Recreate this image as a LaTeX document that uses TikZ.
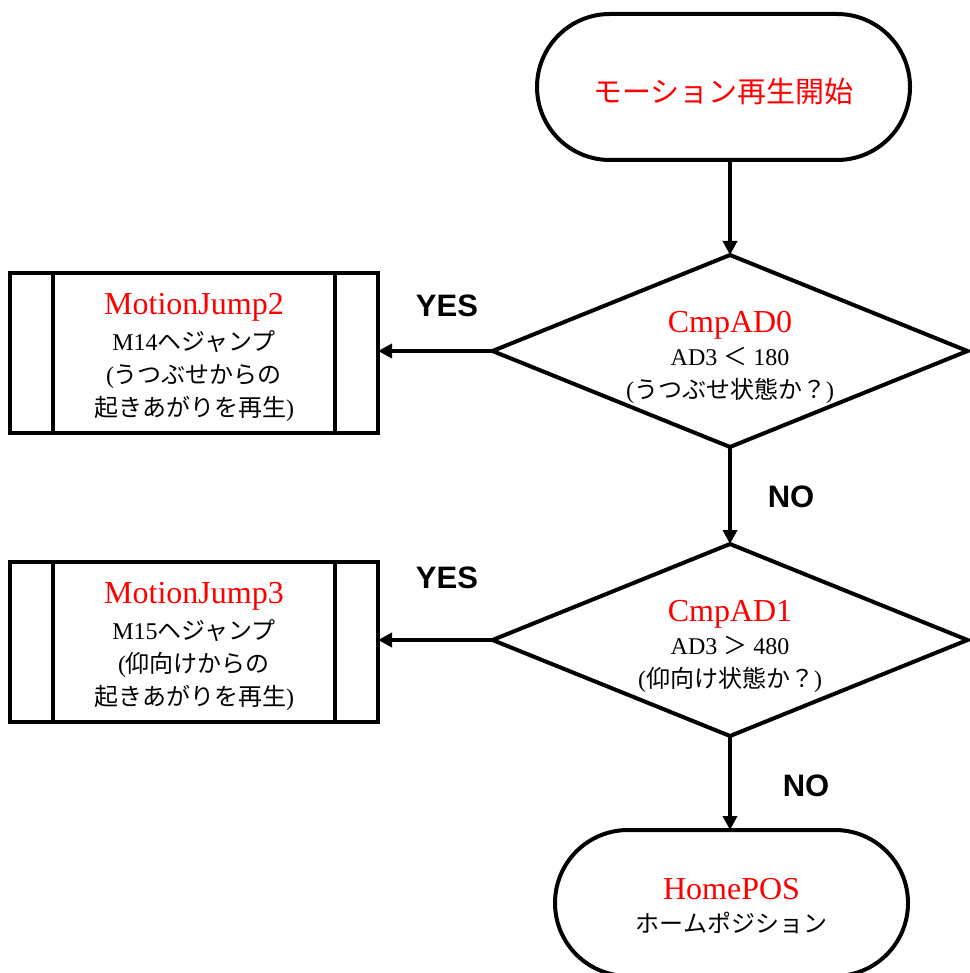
\documentclass[tikz,border=0pt]{standalone}
\usepackage{fontspec}
\setmainfont{Liberation Serif}
\newfontfamily\cjk{Noto Sans CJK JP}
\newfontfamily\lsans{Liberation Sans}
\usetikzlibrary{shapes.geometric,arrows.meta}
\newcommand\jtxt[1]{{\cjk #1}}
\begin{document}
\begin{tikzpicture}[x=1pt,y=-1pt,
  every node/.style={inner sep=0pt, outer sep=0pt},
  term/.style={draw, line width=4pt, rounded corners=73pt, minimum width=#1, minimum height=146pt},
  dec/.style={draw, diamond, line width=4pt, minimum width=475pt, minimum height=192pt, shape aspect=2.47},
  proc/.style={draw, line width=4pt, minimum width=368pt, minimum height=160pt},
  arr/.style={line width=4pt, -{Triangle[length=14pt,width=14pt]}},
  lbl/.style={font=\lsans\bfseries\fontsize{31}{31}\selectfont},
  body/.style={align=center, font=\fontsize{24}{33}\selectfont}
  ]
\useasboundingbox (0,0) rectangle (969,973);
\fill[white] (0,0) rectangle (969,973);

% start
\node[term=373pt] (start) at (723.5,87) {};
\node[font=\cjk\fontsize{29}{29}\selectfont, text=red] (startt) at (723.5,92) {モーション再生開始};

% decisions
\node[dec] (d1) at (730,351) {};
\node[body] (d1t) at (730,357) {{\fontsize{32}{33}\selectfont\color{red}CmpAD0}\\ AD3 \jtxt{＜} 180\\ (\jtxt{うつぶせ状態か？})};
\node[dec] (d2) at (730,640) {};
\node[body] (d2t) at (730,646) {{\fontsize{32}{33}\selectfont\color{red}CmpAD1}\\ AD3 \jtxt{＞} 480\\ (\jtxt{仰向け状態か？})};

% process boxes
\node[proc] (b1) at (194,353) {};
\draw[line width=4pt] ([xshift=43pt]b1.north west) -- ([xshift=43pt]b1.south west)
                      ([xshift=-43pt]b1.north east) -- ([xshift=-43pt]b1.south east);
\node[body] (b1t) at (194,357) {{\fontsize{32}{33}\selectfont\color{red}MotionJump2}\\[3pt] M14\jtxt{ヘジャンプ}\\ (\jtxt{うつぶせからの}\\ \jtxt{起きあがりを再生})};

\node[proc] (b2) at (194,642) {};
\draw[line width=4pt] ([xshift=43pt]b2.north west) -- ([xshift=43pt]b2.south west)
                      ([xshift=-43pt]b2.north east) -- ([xshift=-43pt]b2.south east);
\node[body] (b2t) at (194,646) {{\fontsize{32}{33}\selectfont\color{red}MotionJump3}\\[3pt] M15\jtxt{ヘジャンプ}\\ (\jtxt{仰向けからの}\\ \jtxt{起きあがりを再生})};

% end
\node[term=353pt] (end) at (731.5,903) {};
\node[body] (endt) at (731.5,906) {{\fontsize{32}{33}\selectfont\color{red}HomePOS}\\ \jtxt{ホームポジション}};

% connectors
\draw[arr] (start.south -| d1.north) -- (d1.north);
\draw[arr] (d1.west) -- (d1.west -| b1.east);
\draw[arr] (d1.south) -- (d2.north);
\draw[arr] (d2.west) -- (d2.west -| b2.east);
\draw[arr] (d2.south) -- (d2.south |- end.north);

% labels
\node[lbl] (yes1) at (447,306) {YES};
\node[lbl] (no1) at (791,497) {NO};
\node[lbl] (yes2) at (447,578) {YES};
\node[lbl] (no2) at (806,786) {NO};
\end{tikzpicture}
\end{document}
